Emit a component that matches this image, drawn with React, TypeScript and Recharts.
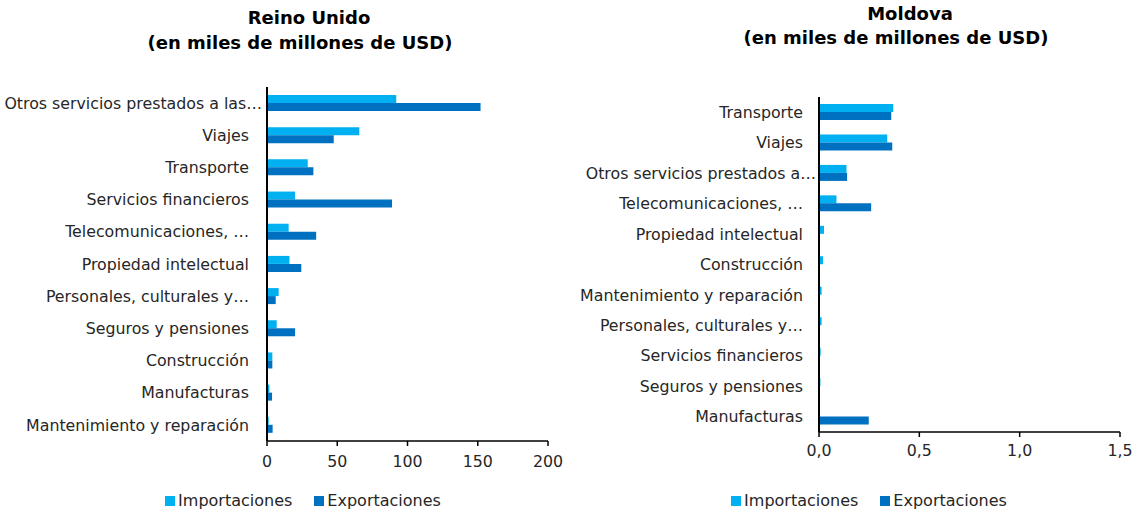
import React from 'react';
import { BarChart, Bar, XAxis, YAxis } from 'recharts';

// Reino Unido
const ukCategories = [
  'Otros servicios prestados a las…',
  'Viajes',
  'Transporte',
  'Servicios financieros',
  'Telecomunicaciones, …',
  'Propiedad intelectual',
  'Personales, culturales y…',
  'Seguros y pensiones',
  'Construcción',
  'Manufacturas',
  'Mantenimiento y reparación',
];
const ukImports = [92, 65.7, 29, 20, 15.4, 16, 8.3, 6.9, 3.8, 1.7, 1.2];
const ukExports = [152, 47.5, 33, 89, 35, 24.4, 6.2, 20, 3.8, 3.6, 4];
const ukTicks = [0, 50, 100, 150, 200];

// Moldova
const mdCategories = [
  'Transporte',
  'Viajes',
  'Otros servicios prestados a…',
  'Telecomunicaciones, …',
  'Propiedad intelectual',
  'Construcción',
  'Mantenimiento y reparación',
  'Personales, culturales y…',
  'Servicios financieros',
  'Seguros y pensiones',
  'Manufacturas',
];
const mdImports = [0.37, 0.34, 0.137, 0.087, 0.025, 0.02, 0.013, 0.013, 0.008, 0.007, 0];
const mdExports = [0.36, 0.365, 0.14, 0.26, 0.002, 0.003, 0.002, 0.003, 0.002, 0.001, 0.248];
const mdTicks = [0, 0.5, 1, 1.5];

const COLORS = {
  imports: '#00B0F0',
  exports: '#0070C0',
  axis: '#000000',
  text: '#262626',
};

const FONT = '"DejaVu Sans", Verdana, sans-serif';

const build = (cats: string[], imp: number[], exp: number[]) =>
  cats.map((name, i) => ({ name, imports: imp[i], exports: exp[i] }));

const ukData = build(ukCategories, ukImports, ukExports);
const mdData = build(mdCategories, mdImports, mdExports);

const tickStyle = { fill: COLORS.text, fontSize: 15.8, fontFamily: FONT };

// long truncated labels overflow toward the axis, like in the original
function CategoryTick({ x, y, payload }: any) {
  const label = String(payload.value);
  const shift = label.length > 26 ? 13 : 0;
  return (
    <text
      x={x + shift}
      y={y}
      dy="0.355em"
      textAnchor="end"
      fill={COLORS.text}
      fontSize={15.8}
      fontFamily={FONT}
    >
      {label}
    </text>
  );
}

function TitleLine({ center, top, text }: { center: number; top: number; text: string }) {
  return (
    <div
      style={{
        position: 'absolute',
        left: center - 250,
        top,
        width: 500,
        textAlign: 'center',
        fontFamily: FONT,
        fontWeight: 'bold',
        fontSize: 18,
        lineHeight: '22px',
        color: '#000',
        whiteSpace: 'nowrap',
      }}
    >
      {text}
    </div>
  );
}

function LegendBox({ center, top }: { center: number; top: number }) {
  const item = (label: string, color: string) => (
    <span style={{ display: 'inline-flex', alignItems: 'center' }}>
      <span style={{ width: 10, height: 10, background: color, marginRight: 3 }} />
      {label}
    </span>
  );
  return (
    <div
      style={{
        position: 'absolute',
        left: center - 250,
        top,
        width: 500,
        display: 'flex',
        justifyContent: 'center',
        gap: 22,
        fontFamily: FONT,
        fontSize: 16,
        color: COLORS.text,
      }}
    >
      {item('Importaciones', COLORS.imports)}
      {item('Exportaciones', COLORS.exports)}
    </div>
  );
}

function ServicesChart({
  data,
  ticks,
  domain,
  format,
  top,
  bottom,
  axisX,
  right,
  width,
  tickMargin,
  labelMargin,
}: any) {
  return (
    <BarChart
      width={width}
      height={bottom + 40}
      data={data}
      layout="vertical"
      margin={{ top, right: width - right, left: 0, bottom: 10 }}
      barGap={0}
      barSize={8}
    >
      <XAxis
        type="number"
        domain={domain}
        ticks={ticks}
        tickFormatter={format}
        tick={tickStyle}
        tickSize={5}
        tickMargin={tickMargin}
        axisLine={{ stroke: COLORS.axis, strokeWidth: 1.5 }}
        tickLine={{ stroke: COLORS.axis, strokeWidth: 1.5 }}
        height={30}
        interval={0}
      />
      <YAxis
        type="category"
        dataKey="name"
        width={axisX}
        tick={<CategoryTick />}
        tickLine={false}
        tickMargin={labelMargin}
        axisLine={{ stroke: COLORS.axis, strokeWidth: 2 }}
        interval={0}
      />
      <Bar dataKey="imports" name="Importaciones" fill={COLORS.imports} isAnimationActive={false} />
      <Bar dataKey="exports" name="Exportaciones" fill={COLORS.exports} isAnimationActive={false} />
    </BarChart>
  );
}

export default function App() {
  return (
    <div
      style={{
        position: 'absolute',
        left: 0,
        top: 0,
        width: 1138,
        height: 513,
        background: '#fff',
        overflow: 'hidden',
      }}
    >
      <TitleLine center={309} top={7} text="Reino Unido" />
      <TitleLine center={300} top={32} text="(en miles de millones de USD)" />
      <TitleLine center={910} top={3} text="Moldova" />
      <TitleLine center={896} top={27} text="(en miles de millones de USD)" />

      <div style={{ position: 'absolute', left: 0, top: 0 }}>
        <ServicesChart
          data={ukData}
          ticks={ukTicks}
          domain={[0, 200]}
          format={(v: number) => String(v)}
          top={87}
          bottom={441}
          axisX={267}
          right={548}
          width={570}
          tickMargin={10}
          labelMargin={12}
        />
      </div>

      <div style={{ position: 'absolute', left: 570, top: 0 }}>
        <ServicesChart
          data={mdData}
          ticks={mdTicks}
          domain={[0, 1.5]}
          format={(v: number) => v.toFixed(1).replace('.', ',')}
          top={97}
          bottom={432}
          axisX={249}
          right={550}
          width={568}
          tickMargin={8}
          labelMargin={10}
        />
      </div>

      <LegendBox center={303} top={491} />
      <LegendBox center={869} top={491} />
    </div>
  );
}
